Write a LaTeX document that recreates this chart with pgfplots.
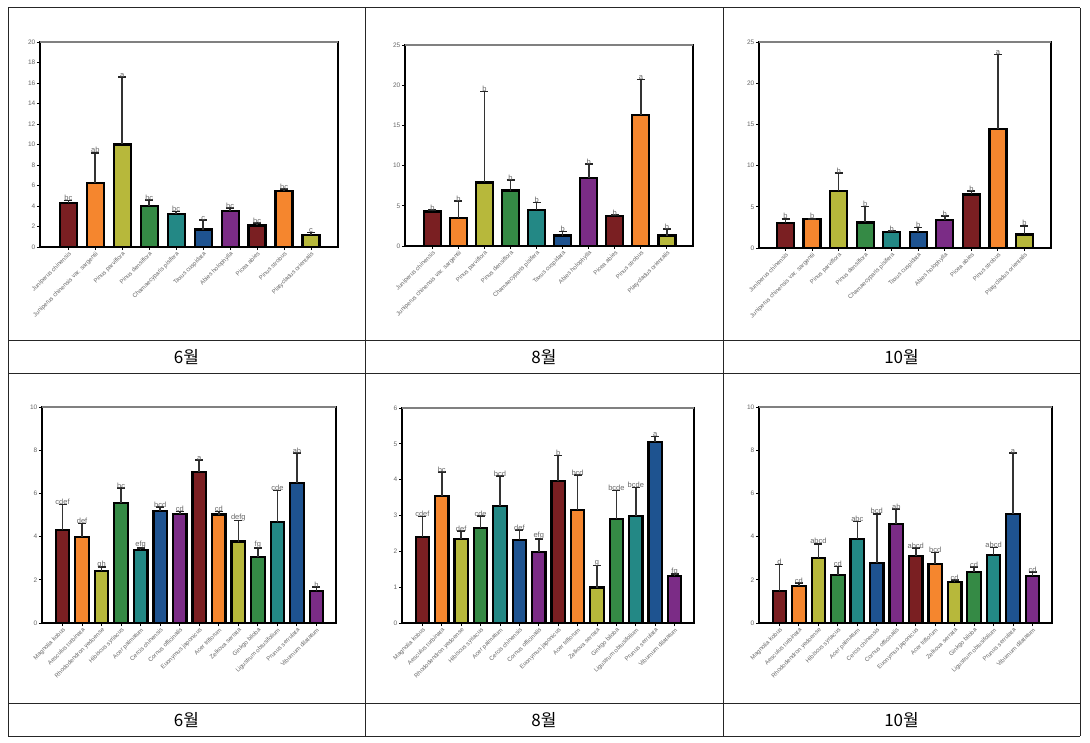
\documentclass[border=0pt]{standalone}
\usepackage{pgfplots}
\usepackage{pgfplotstable}
\pgfplotsset{compat=1.18}
\usepackage{fontspec}
\setmainfont{Liberation Sans}
\newfontfamily\kr{Noto Sans CJK KR}

\definecolor{c0}{HTML}{7A1F22}
\definecolor{c1}{HTML}{F5862E}
\definecolor{c2}{HTML}{B7B83B}
\definecolor{c3}{HTML}{358A45}
\definecolor{c4}{HTML}{238885}
\definecolor{c5}{HTML}{1E5390}
\definecolor{c6}{HTML}{7B2C86}

\pgfplotstableread{
x v e c lab
0 4.30 0.25 0 bc
1 6.25 2.95 1 ab
2 10.0 6.60 2 a
3 4.00 0.60 3 bc
4 3.25 0.20 4 bc
5 1.70 0.95 5 c
6 3.50 0.30 6 bc
7 2.10 0.25 0 bc
8 5.45 0.20 1 bc
9 1.15 0.25 2 c
}\tA
\pgfplotstableread{
x v e c lab
0 4.30 0.20 0 b
1 3.50 2.10 1 b
2 7.90 11.3 2 b
3 6.90 1.30 3 b
4 4.50 0.90 4 b
5 1.30 0.50 5 b
6 8.50 1.70 6 b
7 3.70 0.15 0 b
8 16.3 4.40 1 a
9 1.30 0.80 2 b
}\tB
\pgfplotstableread{
x v e c lab
0 3.00 0.55 0 b
1 3.50 0.05 1 b
2 6.90 2.20 2 b
3 3.10 1.95 3 b
4 1.95 0.10 4 b
5 1.95 0.55 5 b
6 3.35 0.55 6 b
7 6.50 0.40 0 b
8 14.45 9.05 1 a
9 1.65 1.05 2 b
}\tC
\pgfplotstableread{
x v e c lab
0 4.32 1.16 0 cdef
1 3.98 0.62 1 def
2 2.41 0.17 2 gh
3 5.56 0.69 3 bc
4 3.38 0.09 4 efg
5 5.20 0.17 5 bcd
6 5.06 0.11 6 cd
7 7.00 0.55 0 a
8 5.02 0.15 1 cd
9 3.77 0.97 2 defg
10 3.04 0.43 3 fg
11 4.66 1.48 4 cde
12 6.48 1.39 5 ab
13 1.47 0.20 6 h
}\tD
\pgfplotstableread{
x v e c lab
0 2.39 0.58 0 cdef
1 3.55 0.66 1 bc
2 2.34 0.22 2 def
3 2.66 0.32 3 cde
4 3.26 0.84 4 bcd
5 2.31 0.29 5 def
6 1.99 0.35 6 efg
7 3.96 0.71 0 b
8 3.16 0.97 1 bcd
9 0.99 0.62 2 g
10 2.90 0.80 3 bcde
11 2.99 0.79 4 bcde
12 5.06 0.14 5 a
13 1.32 0.04 6 fg
}\tE
\pgfplotstableread{
x v e c lab
0 1.47 1.23 0 d
1 1.73 0.12 1 cd
2 3.00 0.67 2 abcd
3 2.24 0.38 3 cd
4 3.89 0.81 4 abc
5 2.78 2.28 5 bcd
6 4.58 0.70 6 ab
7 3.12 0.35 0 abcd
8 2.75 0.52 1 bcd
9 1.90 0.10 2 cd
10 2.35 0.23 3 cd
11 3.15 0.35 4 abcd
12 5.06 2.81 5 a
13 2.19 0.16 6 cd
}\tF

\pgfplotsset{
 panel/.style={scale only axis, anchor=south west, ymin=0, enlargelimits=false, clip=false,
  axis line style={black, line width=1.4pt},
  tick align=outside, xtick pos=bottom, ytick pos=left,
  major tick length=3pt, tick style={black, line width=0.9pt},
  /pgf/number format/assume math mode=true,
  yticklabel style={font=\fontsize{6.5}{6.5}\selectfont, text=black!60, inner sep=1.5pt},
  xticklabel style={font=\fontsize{6}{6}\selectfont, text=black!60, rotate=45, anchor=north east, inner sep=0.8pt},
 },
 top/.style={panel, xmin=-1.05, xmax=10, xtick={0,...,9},
  xticklabels={Juniperus chinensis, Juniperus chinensis var. sargentii, Pinus parviflora, Pinus densiflora, Chamaecyparis pisifera, Taxus cuspidata, Abies holophylla, Picea abies, Pinus strobus, Platycladus orientalis}},
 bot/.style={panel, xmin=-1.05, xmax=14, xtick={0,...,13},
  xticklabels={Magnolia kobus, Aesculus turbinata, Rhododendron yedoense, Hibiscus syriacus, Acer palmatum, Cercis chinensis, Cornus officinalis, Euonymus japonicus, Acer triflorum, Zelkova serrata, Ginkgo biloba, Ligustrum obtusifolium, Prunus serrulata, Viburnum dilatatum}},
}

\newcommand{\drawbars}[2]{%
 \pgfplotsinvokeforeach{0,...,6}{
  \addplot[ybar, bar width=#2, fill=c##1, draw=black, line width=2.2pt,
   restrict expr to domain={\thisrow{c}}{##1:##1},
   error bars/.cd, y dir=plus, y explicit,
   error bar style={black!80, line width=1.6pt},
   error mark options={black!85, line width=1.6pt, mark size=4pt, rotate=90}]
   table[x=x, y=v, y error=e] {#1};
 }
 \addplot[draw=none, mark=none, nodes near coords, point meta=explicit symbolic,
  nodes near coords style={font=\fontsize{7.5}{7.5}\selectfont, text=black!60, anchor=south, inner sep=0.5pt, yshift=-1pt}]
  table[x=x, y expr=\thisrow{v}+\thisrow{e}, meta=lab] {#1};
 \draw[black!50, line width=2.2pt] (rel axis cs:0,1) -- (rel axis cs:1,1);
}

\begin{document}
\begin{tikzpicture}
\path (0,0) rectangle (1090pt,-743pt);
% table grid
\begin{scope}[black!85, line width=1pt]
\foreach \yy in {8,341,373,703,736} \draw (8pt,-\yy pt) -- (1080pt,-\yy pt);
\foreach \xx in {8,365,723,1080} \draw (\xx pt,-8pt) -- (\xx pt,-736pt);
\end{scope}

\begin{axis}[top, at={(40pt,-247pt)}, width=298pt, height=205pt, ymax=20, ytick={0,2,...,20}]
\drawbars{\tA}{17pt}
\end{axis}
\begin{axis}[top, at={(405pt,-246pt)}, width=288pt, height=201pt, ymax=25, ytick={0,5,...,25}]
\drawbars{\tB}{17pt}
\end{axis}
\begin{axis}[top, at={(759pt,-248pt)}, width=292pt, height=206pt, ymax=25, ytick={0,5,...,25}, xmin=-1]
\drawbars{\tC}{17pt}
\end{axis}
\begin{axis}[bot, at={(42pt,-623pt)}, width=294pt, height=216pt, ymax=10, ytick={0,2,...,10}]
\drawbars{\tD}{13.5pt}
\end{axis}
\begin{axis}[bot, at={(402pt,-623pt)}, width=292pt, height=215pt, ymax=6, ytick={0,1,...,6}]
\drawbars{\tE}{13.5pt}
\end{axis}
\begin{axis}[bot, at={(759pt,-623pt)}, width=293pt, height=216pt, ymax=10, ytick={0,2,...,10}]
\drawbars{\tF}{13.5pt}
\end{axis}

\node[font=\kr\fontsize{17}{17}\selectfont] at (186.5pt,-357pt) {6월};
\node[font=\kr\fontsize{17}{17}\selectfont] at (544pt,-357pt) {8월};
\node[font=\kr\fontsize{17}{17}\selectfont] at (901.5pt,-357pt) {10월};
\node[font=\kr\fontsize{17}{17}\selectfont] at (186.5pt,-720pt) {6월};
\node[font=\kr\fontsize{17}{17}\selectfont] at (544pt,-720pt) {8월};
\node[font=\kr\fontsize{17}{17}\selectfont] at (901.5pt,-720pt) {10월};
\end{tikzpicture}
\end{document}
